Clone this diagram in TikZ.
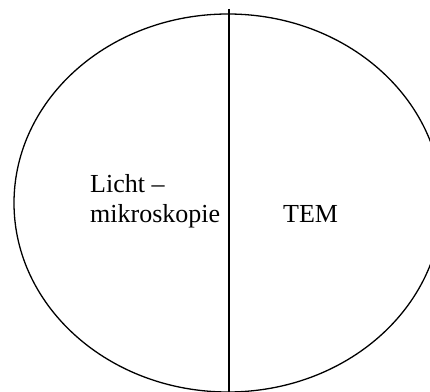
\documentclass[tikz,border=0pt]{standalone}
\usepackage{fontspec}
\setmainfont{Liberation Serif}
\begin{document}
\begin{tikzpicture}[x=1pt,y=1pt,
  label/.style={anchor=base west,inner sep=0pt,font=\fontsize{26}{30}\selectfont}]
\useasboundingbox (0,0) rectangle (430,391);
\clip (0,0) rectangle (430,391);
%ellipse
\draw[line width=1.3pt] (228,188) ellipse [x radius=214,y radius=189];
%divider
\coordinate (top) at (229,382);
\coordinate (bottom) at (229,-2);
\draw[line width=1.3pt] (top) -- (bottom);
%text
\node[label] (licht) at (90,198) {Licht --};
\node[label] (mikro) at (90,168) {mikroskopie};
\node[label] (tem) at (283,168) {TEM};
\end{tikzpicture}
\end{document}
